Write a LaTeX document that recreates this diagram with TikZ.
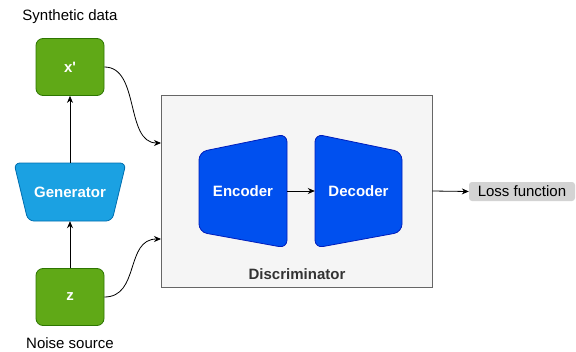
\documentclass[tikz,border=0pt]{standalone}
\usepackage{fontspec}
\setmainfont{Liberation Sans}
\usetikzlibrary{arrows.meta}

\definecolor{greenfill}{HTML}{60A917}
\definecolor{greenline}{HTML}{2D7600}
\definecolor{genfill}{HTML}{1BA1E2}
\definecolor{genline}{HTML}{006EAF}
\definecolor{codfill}{HTML}{0050EF}
\definecolor{codline}{HTML}{001DBC}
\definecolor{discfill}{HTML}{F5F5F5}
\definecolor{discline}{HTML}{666666}
\definecolor{disctext}{HTML}{333333}
\definecolor{lossfill}{HTML}{D3D3D3}

\begin{document}
\begin{tikzpicture}[x=1pt,y=-1pt,
  font=\fontsize{15}{18}\selectfont,
  databox/.style={draw=greenline, fill=greenfill, line width=0.8pt, rounded corners=7pt,
    minimum width=68pt, minimum height=57pt, text=white, font=\fontsize{15}{18}\selectfont\bfseries},
  boldwhite/.style={text=white, font=\fontsize{15}{18}\selectfont\bfseries, inner sep=0pt},
  discbox/.style={draw=discline, fill=discfill, line width=0.8pt,
    minimum width=271pt, minimum height=192pt, inner sep=0pt},
  lossbox/.style={fill=lossfill, rounded corners=3pt, minimum width=106pt, minimum height=19pt, inner sep=0pt},
  plain/.style={font=\fontsize{15}{18}\selectfont},
  arr/.style={-{Stealth[length=7pt,width=6pt]}, line width=0.8pt, black}
]
\useasboundingbox (0,0) rectangle (576,351);

% input / output data boxes
\node[databox] (xp) at (70,67) {x\textquotesingle};
\node[databox] (z) at (70,297) {z};
\node[plain] (synth) at (70,17) {Synthetic data};
\node[plain] (noise) at (70,343) {Noise source};

% generator trapezium (wide side up)
\filldraw[fill=genfill, draw=genline, line width=0.8pt, rounded corners=6pt]
  (14,163) -- (126,163) -- (112,221) -- (28,221) -- cycle;
\node[boldwhite, minimum width=84pt, minimum height=58pt] (gen) at (70,192) {Generator};

% discriminator container
\node[discbox] (disc) at (296.5,191) {};
\node[font=\fontsize{15}{18}\selectfont\bfseries, text=disctext] (dlabel) at (297,274) {Discriminator};

% encoder and decoder
\filldraw[fill=codfill, draw=codline, line width=0.8pt, rounded corners=8pt]
  (199,152) -- (287,134) -- (287,248) -- (199,232) -- cycle;
\node[boldwhite, minimum width=88pt, minimum height=114pt] (enc) at (243,191) {Encoder};
\filldraw[fill=codfill, draw=codline, line width=0.8pt, rounded corners=8pt]
  (315,134) -- (402,152) -- (402,232) -- (315,248) -- cycle;
\node[boldwhite, minimum width=87pt, minimum height=114pt] (dec) at (358.5,191) {Decoder};

% loss output
\node[lossbox] (loss) at (522,191.5) {Loss function};

% connectors
\coordinate (inA) at (161,143);
\coordinate (inB) at (161,239);
\draw[arr] (z) -- (gen);
\draw[arr] (gen) -- (xp);
\draw[arr] (xp.east) .. controls (140,67) and (125,143) .. (inA);
\draw[arr] (z.east) .. controls (140,297) and (125,239) .. (inB);
\draw[arr] (enc.east) -- (dec.west);
\draw[arr] (disc.east) -- (loss.west);
\end{tikzpicture}
\end{document}
